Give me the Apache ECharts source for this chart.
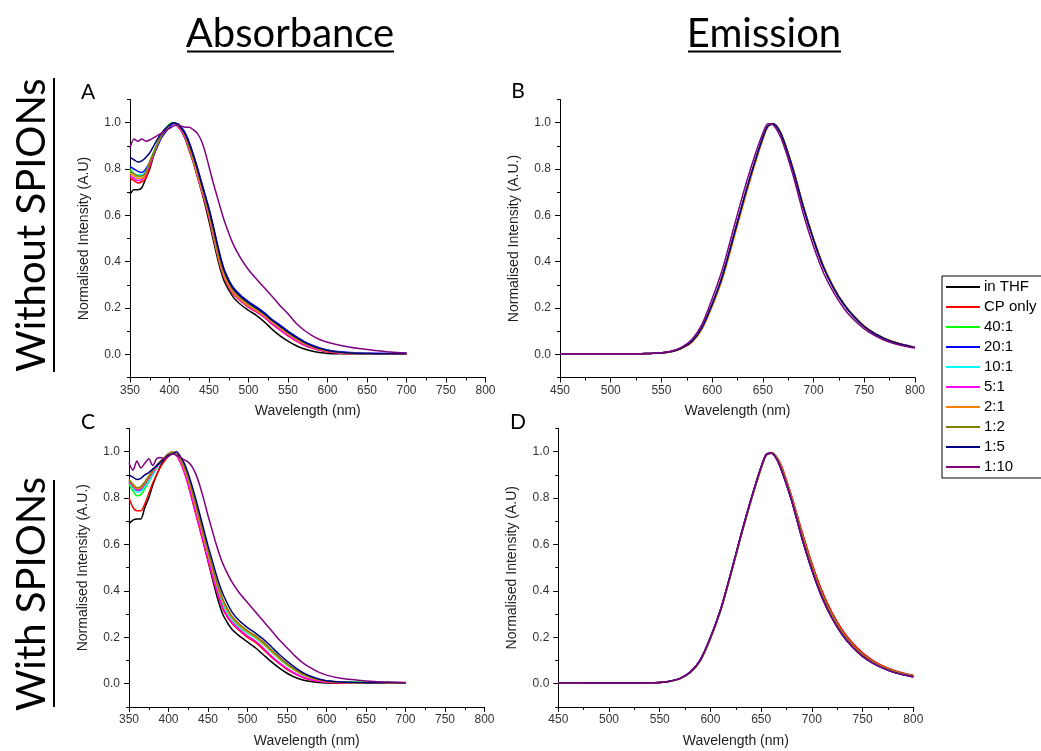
<!DOCTYPE html>
<html>
<head>
<meta charset="utf-8">
<script src="https://cdn.jsdelivr.net/npm/echarts@6/dist/echarts.min.js"></script>
<style>
  html, body { margin: 0; padding: 0; background: #fff; }
  #chart { width: 1041px; height: 751px; }
</style>
</head>
<body>
<div id="chart"></div>
<script>
// sample names and line colours (Origin defaults)
var names = ['in THF', 'CP only', '40:1', '20:1', '10:1', '5:1', '2:1', '1:2', '1:5', '1:10'];
var colors = ['#000000', '#ff0000', '#00ff00', '#0000ff', '#00ffff', '#ff00ff', '#ff8000', '#808000', '#000080', '#800080'];

// absorbance wavelengths (nm)
var absWl = [350, 355, 360, 365, 370, 375, 380, 385, 390, 395, 400, 405, 410, 415, 420, 425, 430, 435, 440, 445,
  450, 455, 460, 465, 470, 480, 490, 500, 510, 520, 530, 540, 550, 560, 570, 580, 590, 600, 620, 640, 660, 680, 700];

// A - absorbance, without SPIONs
var absA_thf = [0.69, 0.71, 0.71, 0.72, 0.76, 0.80, 0.86, 0.91, 0.95, 0.975, 0.99, 1.0, 0.99, 0.965, 0.93, 0.88, 0.83, 0.77, 0.71, 0.645, 0.575, 0.5, 0.425, 0.36, 0.31, 0.25, 0.215, 0.19, 0.168, 0.14, 0.108, 0.08, 0.057, 0.038, 0.024, 0.014, 0.008, 0.004, 0.002, 0.001, 0.001, 0.001, 0.001];
var absA_cp = [0.76, 0.75, 0.74, 0.745, 0.76, 0.81, 0.86, 0.905, 0.945, 0.97, 0.99, 1.0, 0.985, 0.965, 0.935, 0.885, 0.835, 0.775, 0.715, 0.655, 0.59, 0.515, 0.44, 0.375, 0.325, 0.263, 0.23, 0.203, 0.183, 0.16, 0.13, 0.104, 0.08, 0.058, 0.04, 0.027, 0.017, 0.01, 0.004, 0.002, 0.001, 0.001, 0.001];
var absA_40 = [0.8, 0.78, 0.77, 0.77, 0.785, 0.83, 0.875, 0.915, 0.95, 0.975, 0.995, 1.0, 0.99, 0.97, 0.94, 0.89, 0.84, 0.78, 0.72, 0.665, 0.598, 0.522, 0.445, 0.38, 0.33, 0.27, 0.235, 0.208, 0.188, 0.165, 0.138, 0.112, 0.088, 0.065, 0.046, 0.032, 0.021, 0.014, 0.006, 0.003, 0.002, 0.002, 0.002];
var absA_20 = [0.81, 0.8, 0.79, 0.785, 0.8, 0.83, 0.86, 0.9, 0.935, 0.96, 0.98, 0.995, 0.995, 0.98, 0.955, 0.915, 0.865, 0.81, 0.75, 0.69, 0.63, 0.56, 0.485, 0.415, 0.36, 0.292, 0.255, 0.228, 0.205, 0.18, 0.15, 0.126, 0.1, 0.077, 0.056, 0.04, 0.028, 0.019, 0.01, 0.006, 0.005, 0.004, 0.005];
var absA_10 = [0.79, 0.78, 0.775, 0.775, 0.79, 0.83, 0.87, 0.91, 0.945, 0.97, 0.99, 1.0, 0.99, 0.97, 0.94, 0.895, 0.845, 0.785, 0.725, 0.668, 0.602, 0.527, 0.45, 0.385, 0.335, 0.272, 0.237, 0.21, 0.19, 0.167, 0.14, 0.114, 0.09, 0.066, 0.047, 0.033, 0.022, 0.014, 0.006, 0.003, 0.002, 0.002, 0.002];
var absA_5 = [0.77, 0.76, 0.75, 0.755, 0.775, 0.82, 0.865, 0.91, 0.945, 0.97, 0.99, 1.0, 0.985, 0.965, 0.935, 0.885, 0.835, 0.775, 0.715, 0.66, 0.595, 0.52, 0.445, 0.377, 0.327, 0.266, 0.232, 0.205, 0.184, 0.16, 0.132, 0.106, 0.082, 0.06, 0.042, 0.029, 0.019, 0.012, 0.005, 0.003, 0.002, 0.002, 0.002];
var absA_2 = [0.78, 0.77, 0.76, 0.76, 0.78, 0.83, 0.87, 0.91, 0.95, 0.97, 0.99, 1.0, 0.99, 0.97, 0.94, 0.89, 0.84, 0.78, 0.72, 0.665, 0.6, 0.524, 0.447, 0.381, 0.331, 0.27, 0.236, 0.209, 0.189, 0.166, 0.139, 0.113, 0.089, 0.066, 0.047, 0.033, 0.022, 0.014, 0.006, 0.003, 0.002, 0.001, 0.001];
var absA_12 = [0.79, 0.78, 0.77, 0.77, 0.785, 0.83, 0.87, 0.91, 0.945, 0.97, 0.99, 1.0, 0.99, 0.975, 0.945, 0.9, 0.85, 0.795, 0.735, 0.675, 0.612, 0.542, 0.465, 0.397, 0.345, 0.28, 0.244, 0.217, 0.196, 0.172, 0.144, 0.118, 0.093, 0.07, 0.05, 0.035, 0.024, 0.016, 0.007, 0.004, 0.003, 0.002, 0.002];
var absA_15 = [0.85, 0.84, 0.83, 0.835, 0.85, 0.87, 0.9, 0.93, 0.955, 0.975, 0.99, 1.0, 0.995, 0.975, 0.95, 0.91, 0.86, 0.805, 0.745, 0.685, 0.625, 0.555, 0.48, 0.41, 0.355, 0.287, 0.25, 0.223, 0.2, 0.176, 0.147, 0.122, 0.097, 0.074, 0.054, 0.038, 0.026, 0.017, 0.008, 0.004, 0.003, 0.002, 0.002];
var absA_110 = [0.89, 0.93, 0.92, 0.93, 0.92, 0.925, 0.935, 0.945, 0.955, 0.965, 0.975, 0.985, 0.99, 0.985, 0.98, 0.98, 0.97, 0.955, 0.925, 0.875, 0.81, 0.745, 0.685, 0.625, 0.57, 0.48, 0.415, 0.365, 0.325, 0.287, 0.25, 0.21, 0.175, 0.135, 0.105, 0.082, 0.064, 0.052, 0.036, 0.025, 0.017, 0.01, 0.006];

// C - absorbance, with SPIONs
var absC_thf = [0.69, 0.705, 0.71, 0.71, 0.76, 0.8, 0.855, 0.9, 0.94, 0.965, 0.985, 0.995, 0.99, 0.965, 0.92, 0.865, 0.8, 0.735, 0.67, 0.6, 0.53, 0.46, 0.393, 0.335, 0.29, 0.236, 0.205, 0.18, 0.155, 0.125, 0.095, 0.068, 0.045, 0.028, 0.016, 0.009, 0.005, 0.003, 0.002, 0.002, 0.002, 0.002, 0.002];
var absC_cp = [0.8, 0.76, 0.745, 0.745, 0.775, 0.82, 0.865, 0.9, 0.935, 0.96, 0.98, 0.995, 0.985, 0.955, 0.91, 0.855, 0.79, 0.725, 0.66, 0.595, 0.53, 0.468, 0.41, 0.357, 0.313, 0.261, 0.228, 0.2, 0.178, 0.148, 0.115, 0.087, 0.062, 0.042, 0.027, 0.017, 0.01, 0.006, 0.003, 0.002, 0.002, 0.002, 0.002];
var absC_40 = [0.86, 0.83, 0.81, 0.815, 0.84, 0.87, 0.9, 0.93, 0.955, 0.975, 0.99, 0.995, 0.99, 0.965, 0.925, 0.875, 0.815, 0.75, 0.685, 0.62, 0.555, 0.49, 0.43, 0.377, 0.333, 0.276, 0.242, 0.218, 0.197, 0.17, 0.138, 0.108, 0.08, 0.057, 0.038, 0.025, 0.016, 0.011, 0.008, 0.007, 0.008, 0.005, 0.004];
var absC_20 = [0.87, 0.85, 0.835, 0.835, 0.855, 0.88, 0.905, 0.935, 0.96, 0.975, 0.99, 1.0, 0.99, 0.97, 0.935, 0.885, 0.825, 0.765, 0.7, 0.635, 0.57, 0.505, 0.44, 0.387, 0.343, 0.284, 0.25, 0.225, 0.205, 0.178, 0.146, 0.115, 0.086, 0.062, 0.042, 0.028, 0.018, 0.012, 0.006, 0.004, 0.003, 0.003, 0.003];
var absC_10 = [0.87, 0.845, 0.825, 0.83, 0.85, 0.875, 0.9, 0.93, 0.955, 0.975, 0.99, 0.995, 0.99, 0.965, 0.925, 0.875, 0.815, 0.752, 0.688, 0.624, 0.56, 0.495, 0.434, 0.382, 0.338, 0.279, 0.245, 0.22, 0.199, 0.172, 0.14, 0.11, 0.082, 0.059, 0.04, 0.026, 0.017, 0.011, 0.006, 0.004, 0.003, 0.003, 0.003];
var absC_5 = [0.87, 0.85, 0.835, 0.84, 0.86, 0.885, 0.91, 0.935, 0.955, 0.975, 0.99, 0.995, 0.985, 0.955, 0.912, 0.858, 0.795, 0.73, 0.665, 0.6, 0.536, 0.474, 0.415, 0.362, 0.318, 0.266, 0.233, 0.206, 0.184, 0.154, 0.12, 0.091, 0.066, 0.045, 0.029, 0.018, 0.011, 0.007, 0.004, 0.003, 0.002, 0.002, 0.002];
var absC_2 = [0.88, 0.855, 0.84, 0.845, 0.865, 0.89, 0.915, 0.94, 0.96, 0.975, 0.99, 1.0, 0.99, 0.965, 0.928, 0.878, 0.818, 0.755, 0.69, 0.625, 0.562, 0.5, 0.44, 0.389, 0.345, 0.286, 0.25, 0.224, 0.202, 0.174, 0.142, 0.111, 0.083, 0.059, 0.04, 0.026, 0.016, 0.01, 0.005, 0.003, 0.003, 0.002, 0.002];
var absC_12 = [0.88, 0.86, 0.845, 0.85, 0.87, 0.895, 0.92, 0.94, 0.96, 0.975, 0.99, 0.995, 0.99, 0.97, 0.935, 0.888, 0.83, 0.768, 0.703, 0.638, 0.575, 0.512, 0.452, 0.4, 0.355, 0.293, 0.256, 0.229, 0.207, 0.179, 0.147, 0.115, 0.086, 0.062, 0.042, 0.028, 0.018, 0.012, 0.006, 0.004, 0.003, 0.003, 0.003];
var absC_15 = [0.9, 0.89, 0.88, 0.885, 0.9, 0.91, 0.925, 0.94, 0.955, 0.97, 0.985, 0.99, 1.0, 0.98, 0.95, 0.905, 0.85, 0.79, 0.725, 0.66, 0.595, 0.535, 0.475, 0.422, 0.378, 0.311, 0.27, 0.242, 0.218, 0.192, 0.16, 0.127, 0.097, 0.07, 0.048, 0.032, 0.02, 0.013, 0.007, 0.005, 0.004, 0.005, 0.004];
var absC_110 = [0.95, 0.92, 0.96, 0.93, 0.95, 0.97, 0.94, 0.97, 0.975, 0.97, 0.98, 0.99, 0.985, 0.975, 0.965, 0.955, 0.935, 0.9, 0.85, 0.79, 0.725, 0.665, 0.605, 0.552, 0.508, 0.44, 0.39, 0.35, 0.31, 0.27, 0.23, 0.19, 0.155, 0.12, 0.09, 0.068, 0.05, 0.037, 0.022, 0.015, 0.01, 0.007, 0.005];

// emission wavelengths (nm)
var emWl = [450, 470, 490, 510, 530, 540, 550, 560, 570, 580, 590, 600, 610, 620, 630, 640, 650, 655, 660, 665,
  670, 680, 690, 700, 710, 720, 730, 740, 750, 760, 770, 780, 790, 800];

// B - emission, without SPIONs (curves overlap almost completely)
var emB_main = [0.002, 0.002, 0.002, 0.002, 0.003, 0.004, 0.006, 0.012, 0.027, 0.055, 0.115, 0.215, 0.335, 0.49, 0.65, 0.8, 0.935, 0.985, 0.995, 0.975, 0.93, 0.795, 0.635, 0.495, 0.375, 0.285, 0.215, 0.162, 0.12, 0.09, 0.068, 0.051, 0.039, 0.03];
var emB_2 = [0.002, 0.002, 0.002, 0.002, 0.003, 0.004, 0.005, 0.011, 0.025, 0.051, 0.108, 0.205, 0.323, 0.476, 0.636, 0.788, 0.928, 0.982, 0.996, 0.978, 0.933, 0.8, 0.64, 0.5, 0.38, 0.289, 0.218, 0.165, 0.123, 0.092, 0.07, 0.053, 0.04, 0.031];
var emB_110 = [0.002, 0.002, 0.002, 0.002, 0.003, 0.004, 0.007, 0.014, 0.031, 0.064, 0.13, 0.24, 0.365, 0.525, 0.685, 0.83, 0.955, 0.995, 0.99, 0.96, 0.91, 0.77, 0.605, 0.465, 0.35, 0.265, 0.198, 0.148, 0.11, 0.082, 0.061, 0.046, 0.035, 0.027];

// D - emission, with SPIONs
var emD_main = [0.003, 0.003, 0.003, 0.003, 0.003, 0.004, 0.005, 0.01, 0.022, 0.048, 0.1, 0.195, 0.315, 0.47, 0.635, 0.79, 0.93, 0.985, 0.995, 0.975, 0.93, 0.8, 0.645, 0.505, 0.385, 0.292, 0.22, 0.166, 0.124, 0.094, 0.071, 0.054, 0.042, 0.033];
var emD_cp = [0.003, 0.003, 0.003, 0.003, 0.003, 0.004, 0.005, 0.01, 0.022, 0.048, 0.1, 0.195, 0.315, 0.47, 0.635, 0.79, 0.93, 0.985, 0.997, 0.98, 0.94, 0.81, 0.66, 0.52, 0.4, 0.305, 0.232, 0.176, 0.133, 0.101, 0.077, 0.059, 0.046, 0.036];
var emD_narrow = [0.004, 0.004, 0.003, 0.003, 0.003, 0.004, 0.005, 0.011, 0.023, 0.05, 0.103, 0.2, 0.32, 0.475, 0.64, 0.795, 0.935, 0.988, 0.993, 0.97, 0.92, 0.79, 0.63, 0.49, 0.372, 0.281, 0.211, 0.158, 0.118, 0.089, 0.067, 0.05, 0.039, 0.03];

// one row per legend entry, in legend order
var panelA = [absA_thf, absA_cp, absA_40, absA_20, absA_10, absA_5, absA_2, absA_12, absA_15, absA_110];
var panelB = [emB_main, emB_main, emB_main, emB_main, emB_main, emB_main, emB_2, emB_main, emB_main, emB_110];
var panelC = [absC_thf, absC_cp, absC_40, absC_20, absC_10, absC_5, absC_2, absC_12, absC_15, absC_110];
var panelD = [emD_main, emD_cp, emD_main, emD_narrow, emD_main, emD_main, emD_main, emD_main, emD_narrow, emD_narrow];

var yTicks = [0, 0.2, 0.4, 0.6, 0.8, 1.0];
var yNames = ['Normalised Intensity (A.U)', 'Normalised Intensity (A.U.)', 'Normalised Intensity (A.U.)', 'Normalised Intensity (A.U)'];
var xRanges = [[350, 800], [450, 800], [350, 800], [450, 800]];

var axisFont = 'Arial, "Liberation Sans", sans-serif';
var bigFont = 'Lato, "Open Sans", sans-serif';

var myChart = echarts.init(document.getElementById('chart'));

function makeSeries(wl, rows, p) {
  return rows.map(function(arr, k) {
    return {
      name: names[k],
      type: 'line',
      xAxisIndex: p,
      yAxisIndex: p * 2,
      data: wl.map(function(w, i) { return [w, arr[i]] }),
      showSymbol: false,
      smooth: 0.25,
      color: colors[k],
      lineStyle: { width: 1.5 },
      silent: true
    }
  })
}

var grids = [
  { left: 130, top: 99.5, width: 355.5, height: 278 },
  { left: 560, top: 99.5, width: 355, height: 278 },
  { left: 129, top: 428.5, width: 355.5, height: 278.4 },
  { left: 558.3, top: 428.5, width: 355, height: 278.4 }
]

var xAxes = [], yAxes = []
for (var p = 0; p < 4; p++) {
  xAxes.push({
    type: 'value', gridIndex: p, min: xRanges[p][0], max: xRanges[p][1], interval: 50,
    name: 'Wavelength (nm)', nameLocation: 'middle', nameGap: 27,
    nameTextStyle: { fontSize: 14, color: '#222', fontFamily: axisFont },
    axisLine: { onZero: false, lineStyle: { color: '#000', width: 1 } },
    axisTick: { length: 5, lineStyle: { color: '#000' } },
    minorTick: { show: true, splitNumber: 2, length: 3, lineStyle: { color: '#000' } },
    axisLabel: { fontSize: 12, color: '#333', margin: 7, fontFamily: axisFont },
    splitLine: { show: false }
  })
  yAxes.push({
    type: 'value', gridIndex: p, position: 'left', min: -0.1, max: 1.1,
    name: yNames[p], nameLocation: 'middle', nameGap: 39,
    nameTextStyle: { fontSize: 14, color: '#222', fontFamily: axisFont },
    axisLine: { onZero: false, lineStyle: { color: '#000', width: 1 } },
    axisTick: { length: 5, customValues: yTicks, lineStyle: { color: '#000' } },
    axisLabel: {
      fontSize: 12, color: '#333', margin: 9, fontFamily: axisFont, customValues: yTicks,
      formatter: function(v) { return v.toFixed(1) }
    },
    splitLine: { show: false }
  })
  // minor ticks at the odd tenths
  yAxes.push({
    type: 'value', gridIndex: p, position: 'left', min: -0.1, max: 1.1, interval: 0.2,
    axisLine: { show: false, onZero: false },
    axisTick: { length: 3, lineStyle: { color: '#000' } },
    axisLabel: { show: false },
    splitLine: { show: false }
  })
}

var series = [].concat(
  makeSeries(absWl, panelA, 0),
  makeSeries(emWl, panelB, 1),
  makeSeries(absWl, panelC, 2),
  makeSeries(emWl, panelD, 3)
)

function label(text, x, y, size, rot) {
  return {
    type: 'text', x: x, y: y, rotation: rot || 0, silent: true,
    style: { text: text, fontSize: size, fontFamily: bigFont, fill: '#000', textAlign: 'center', textVerticalAlign: 'middle' }
  }
}
function rule(x1, y1, x2, y2) {
  return { type: 'line', silent: true, shape: { x1: x1, y1: y1, x2: x2, y2: y2 }, style: { stroke: '#000', lineWidth: 2 } }
}

myChart.setOption({
  backgroundColor: '#fff',
  animation: false,
  grid: grids,
  xAxis: xAxes,
  yAxis: yAxes,
  legend: {
    data: names,
    orient: 'vertical',
    left: 942,
    top: 276,
    padding: [3, 40, 3, 4],
    icon: 'rect',
    itemWidth: 34,
    itemHeight: 2,
    itemGap: 4,
    borderColor: '#000',
    borderWidth: 1,
    textStyle: { fontSize: 15, lineHeight: 16, color: '#000', fontFamily: axisFont, padding: [0, 0, 0, -1] },
    selectedMode: false
  },
  graphic: [
    label('Absorbance', 290, 34, 40),
    rule(187, 51.5, 394, 51.5),
    label('Emission', 764, 34, 40),
    rule(688, 51.5, 841, 51.5),
    label('Without SPIONs', 32, 225, 40, Math.PI / 2),
    rule(54, 78, 54, 372),
    label('With SPIONs', 32, 594, 40, Math.PI / 2),
    rule(54, 480, 54, 707),
    label('A', 88, 92, 21),
    label('B', 518, 91, 21),
    label('C', 88, 422, 21),
    label('D', 518, 422, 21)
  ],
  series: series
})

window.addEventListener('resize', function() {
  myChart.resize()
})
</script>
</body>
</html>
